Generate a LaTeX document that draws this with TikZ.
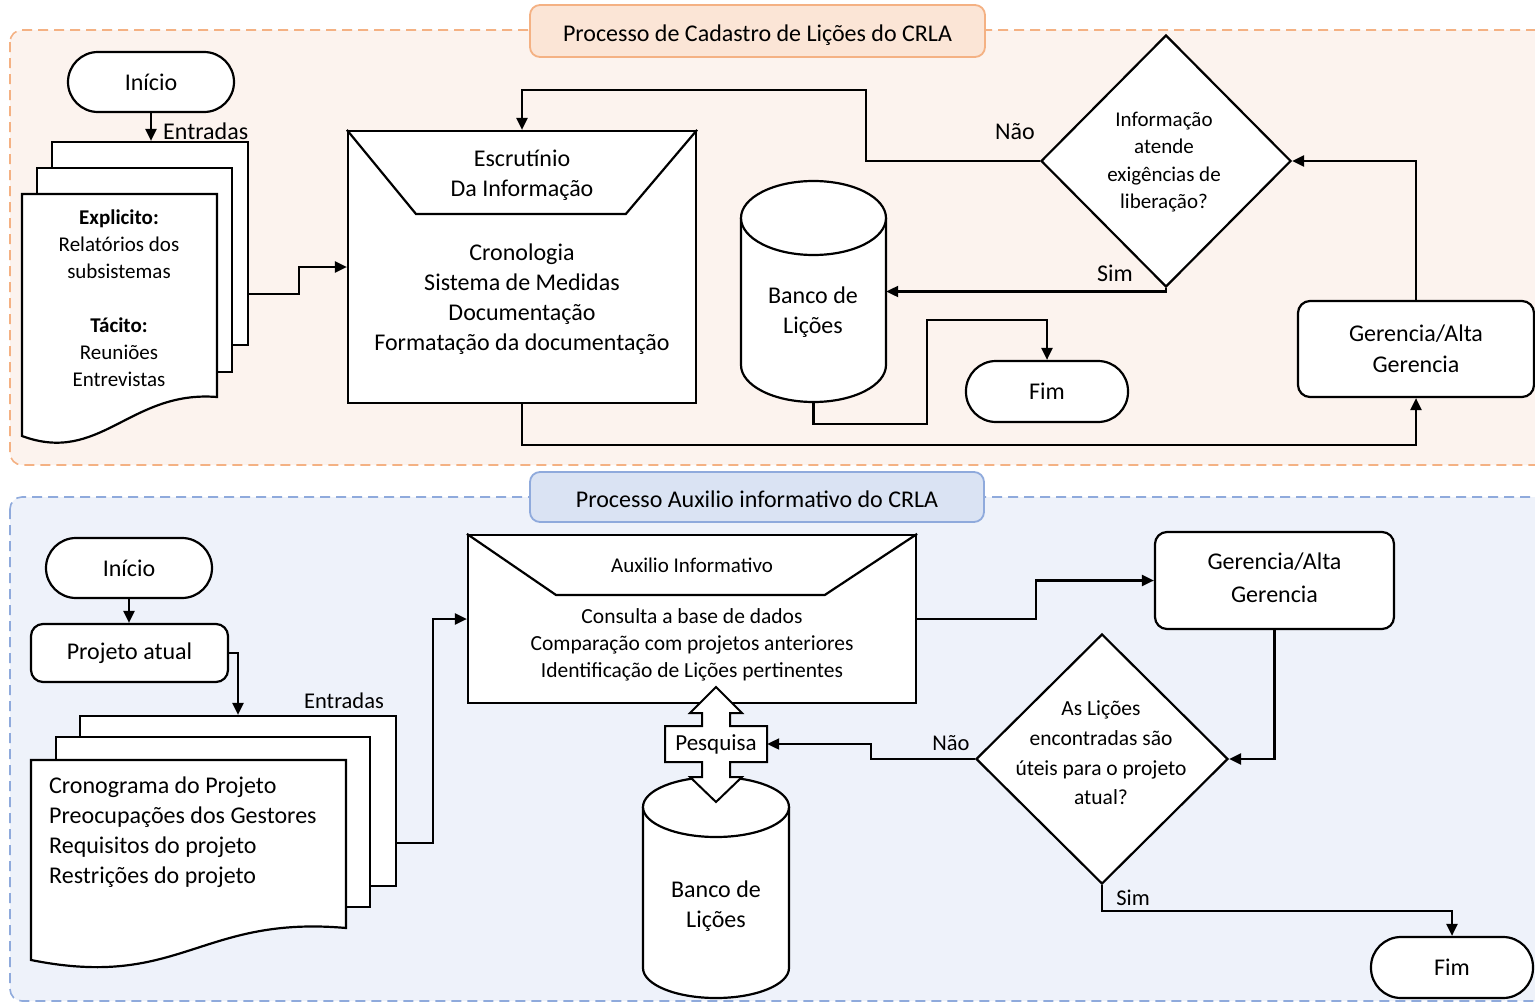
\documentclass[tikz,border=0pt]{standalone}
\usepackage{fontspec}
\setmainfont{Carlito}
\usetikzlibrary{arrows.meta,shapes.geometric,calc}
\definecolor{pfill}{HTML}{FCF3EE}
\definecolor{pline}{HTML}{F4B183}
\definecolor{ptitle}{HTML}{FBE5D6}
\definecolor{bfill}{HTML}{EEF2FA}
\definecolor{bline}{HTML}{8FAADC}
\definecolor{btitle}{HTML}{DAE3F3}
\newcommand\fsz[2]{\fontsize{#1}{#2}\selectfont}
\begin{document}
\begin{tikzpicture}[x=1pt,y=-1pt,
  shp/.style={draw=black,line width=2.2pt,fill=white},
  term/.style={shp,rounded corners=30pt,minimum height=60pt,inner sep=0pt,font=\fsz{24}{28}},
  rbox/.style={shp,rounded corners=12pt,inner sep=0pt,align=center},
  pbox/.style={shp,inner sep=0pt},
  dia/.style={shp,diamond,inner sep=0pt},
  txt/.style={inner sep=0pt,align=center},
  conn/.style={line width=2.2pt,-{Triangle[length=12pt,width=11pt]}},
  plain/.style={line width=2.2pt},
  panel/.style={line width=1.6pt,dash pattern=on 10pt off 6pt,rounded corners=12pt},
  ttl/.style={line width=1.8pt,rounded corners=10pt,inner sep=0pt}
]
\useasboundingbox (0,0) rectangle (1535,1004);
\clip (0,0) rectangle (1535,1004);

% ---------- panels ----------
\draw[panel,fill=pfill,draw=pline] (10,30) rectangle (1560,465);
\node[ttl,draw=pline,fill=ptitle,minimum width=455pt,minimum height=52pt] (title1) at (757.5,31) {};
\node[txt,font=\fsz{24}{28}] (title1t) at (757.5,35) {Processo de Cadastro de Lições do CRLA};
\draw[panel,fill=bfill,draw=bline] (10,497) rectangle (1560,1001);
\node[ttl,draw=bline,fill=btitle,minimum width=454pt,minimum height=50pt] (title2) at (757,497) {};
\node[txt,font=\fsz{24}{28}] (title2t) at (757,499) {Processo Auxilio informativo do CRLA};

% ---------- top process ----------
\node[term,minimum width=166pt] (start1) at (151,82) {Início};
\node[pbox,minimum width=196pt,minimum height=203pt] (sb1) at (150,243.5) {};
\node[pbox,minimum width=195pt,minimum height=204pt] (sm1) at (134.5,270) {};
\draw[shp] (22,194) -- (217,194) -- (217,397) .. controls (130,390) and (100,465) .. (22,436) -- cycle;
\node[txt,font=\fsz{21}{27}] (doc1) at (119,298) {\textbf{Explicito:}\\Relatórios dos\\subsistemas\\[27pt]\textbf{Tácito:}\\Reuniões\\Entrevistas};
\draw[conn] (start1.south) -- (start1.south |- sb1.north);
\node[txt,anchor=west,font=\fsz{24}{28}] (ent1) at (163,131) {Entradas};

\node[pbox,minimum width=348pt,minimum height=272pt] (proc1) at (522,267) {};
\draw[plain] (proc1.north west) -- ++(69,84) -- ++(210,0) -- (proc1.north east);
\node[txt,font=\fsz{24}{30}] (h1) at (522,175) {Escrutínio\\Da Informação};
\node[txt,font=\fsz{24}{30}] (b1) at (522,299) {Cronologia\\Sistema de Medidas\\Documentação\\Formatação da documentação};
\draw[conn] ([yshift=-50.5pt]sb1.east) -- ++(50,0) |- (proc1.west);

\node[dia,minimum width=250pt,minimum height=252pt] (dia1) at (1166,161) {};
\node[txt,font=\fsz{21}{27.3}] (dt1) at (1164,162) {Informação\\atende\\exigências de\\liberação?};

\node[inner sep=0pt,minimum width=145pt,minimum height=221pt] (cyl1) at (813.5,291.5) {};
\draw[shp] (741,218) -- (741,365) .. controls (741,385.4) and (773.5,402) .. (813.5,402) .. controls (853.5,402) and (886,385.4) .. (886,365) -- (886,218);
\draw[shp] (813.5,218) ellipse [x radius=72.5,y radius=37];
\node[txt,font=\fsz{24}{30}] (ct1) at (813,312) {Banco de\\Lições};

\node[term,minimum width=162pt,minimum height=61pt] (fim1) at (1047,391.5) {Fim};
\node[rbox,minimum width=236pt,minimum height=96pt,font=\fsz{24}{31}] (ger1) at (1416,349) {Gerencia/Alta\\Gerencia};

\draw[conn] (dia1.south) |- (cyl1.east);
\node[txt,font=\fsz{24}{28}] (sim1) at (1115,273) {Sim};
\draw[conn] (dia1.west) -- ++(-174,0) |- ([yshift=40pt]proc1.north) -- (proc1.north);
\node[txt,font=\fsz{24}{28}] (nao1) at (1015,132) {Não};
\draw[conn] (cyl1.south) -- ++(0,22) -- ++(113.5,0) |- ([yshift=40pt]fim1.north) -- (fim1.north);
\draw[conn] (proc1.south) -- ++(0,41) -| (ger1.south);
\draw[conn] (ger1.north) |- (dia1.east);

% ---------- bottom process ----------
\node[term,minimum width=166pt] (start2) at (129,568) {Início};
\node[rbox,minimum width=197pt,minimum height=58pt,font=\fsz{24}{28}] (proj) at (129.5,653) {Projeto atual};
\draw[conn] (start2.south) -- (start2.south |- proj.north);

\node[pbox,minimum width=316pt,minimum height=170pt] (sb2) at (238,801) {};
\node[pbox,minimum width=314pt,minimum height=170pt] (sm2) at (213,822) {};
\draw[shp] (31,760) -- (346,760) -- (346,928) .. controls (200,915) and (180,990) .. (31,960) -- cycle;
\node[txt,align=left,anchor=west,font=\fsz{24}{30}] (doc2) at (49,832) {Cronograma do Projeto\\Preocupações dos Gestores\\Requisitos do projeto\\Restrições do projeto};
\draw[conn] (proj.east) -| (sb2.north);
\node[txt,font=\fsz{22.5}{28}] (ent2) at (344,701) {Entradas};

\node[pbox,minimum width=448pt,minimum height=168pt] (proc2) at (692,619) {};
\draw[plain] (proc2.north west) -- ++(89,61) -- ++(269,0) -- (proc2.north east);
\node[txt,font=\fsz{21}{27}] (h2) at (692,565) {Auxilio Informativo};
\node[txt,font=\fsz{21.5}{27}] (b2) at (692,645) {Consulta a base de dados\\Comparação com projetos anteriores\\Identificação de Lições pertinentes};
\draw[conn] ([yshift=-42pt]sb2.east) -- ++(36,0) |- (proc2.west);

\node[inner sep=0pt,minimum width=146pt,minimum height=221pt] (cyl2) at (716,887.5) {};
\draw[shp] (643,807) -- (643,968) .. controls (643,984.6) and (675.7,998) .. (716,998) .. controls (756.3,998) and (789,984.6) .. (789,968) -- (789,807);
\draw[shp] (716,807) ellipse [x radius=73,y radius=30];
\node[txt,font=\fsz{24}{30}] (ct2) at (716,906) {Banco de\\Lições};

\draw[shp,line width=2pt] (716,687) -- (742,713) -- (730,713) -- (730,726) -- (767,726) -- (767,762) -- (730,762) -- (730,777) -- (742,777) -- (716,802) -- (690,777) -- (702,777) -- (702,762) -- (665,762) -- (665,726) -- (702,726) -- (702,713) -- (690,713) -- cycle;
\node[txt,font=\fsz{23}{26},minimum width=102pt,minimum height=36pt] (pesq) at (716,744) {Pesquisa};

\node[rbox,minimum width=239pt,minimum height=97pt,font=\fsz{24}{33}] (ger2) at (1274.5,580.5) {};
\node[txt,font=\fsz{24}{33}] (ger2t) at (1274.5,577.5) {Gerencia/Alta\\Gerencia};
\node[dia,minimum width=252pt,minimum height=250pt] (dia2) at (1102,759) {};
\node[txt,font=\fsz{21.5}{29.7}] (dt2) at (1101,753) {As Lições\\encontradas são\\úteis para o projeto\\atual?};
\node[term,minimum width=162pt,minimum height=61pt] (fim2) at (1452,967.5) {Fim};

\draw[conn] (proc2.east) -- ++(119,0) |- (ger2.west);
\draw[conn] (ger2.south) |- (dia2.east);
\draw[conn] (dia2.west) -- ++(-104,0) |- (pesq.east);
\node[txt,font=\fsz{22.5}{28}] (nao2) at (951,743) {Não};
\draw[conn] (dia2.south) -- ++(0,26) -| (fim2.north);
\node[txt,font=\fsz{22.5}{28}] (sim2) at (1133,898) {Sim};
\end{tikzpicture}
\end{document}
